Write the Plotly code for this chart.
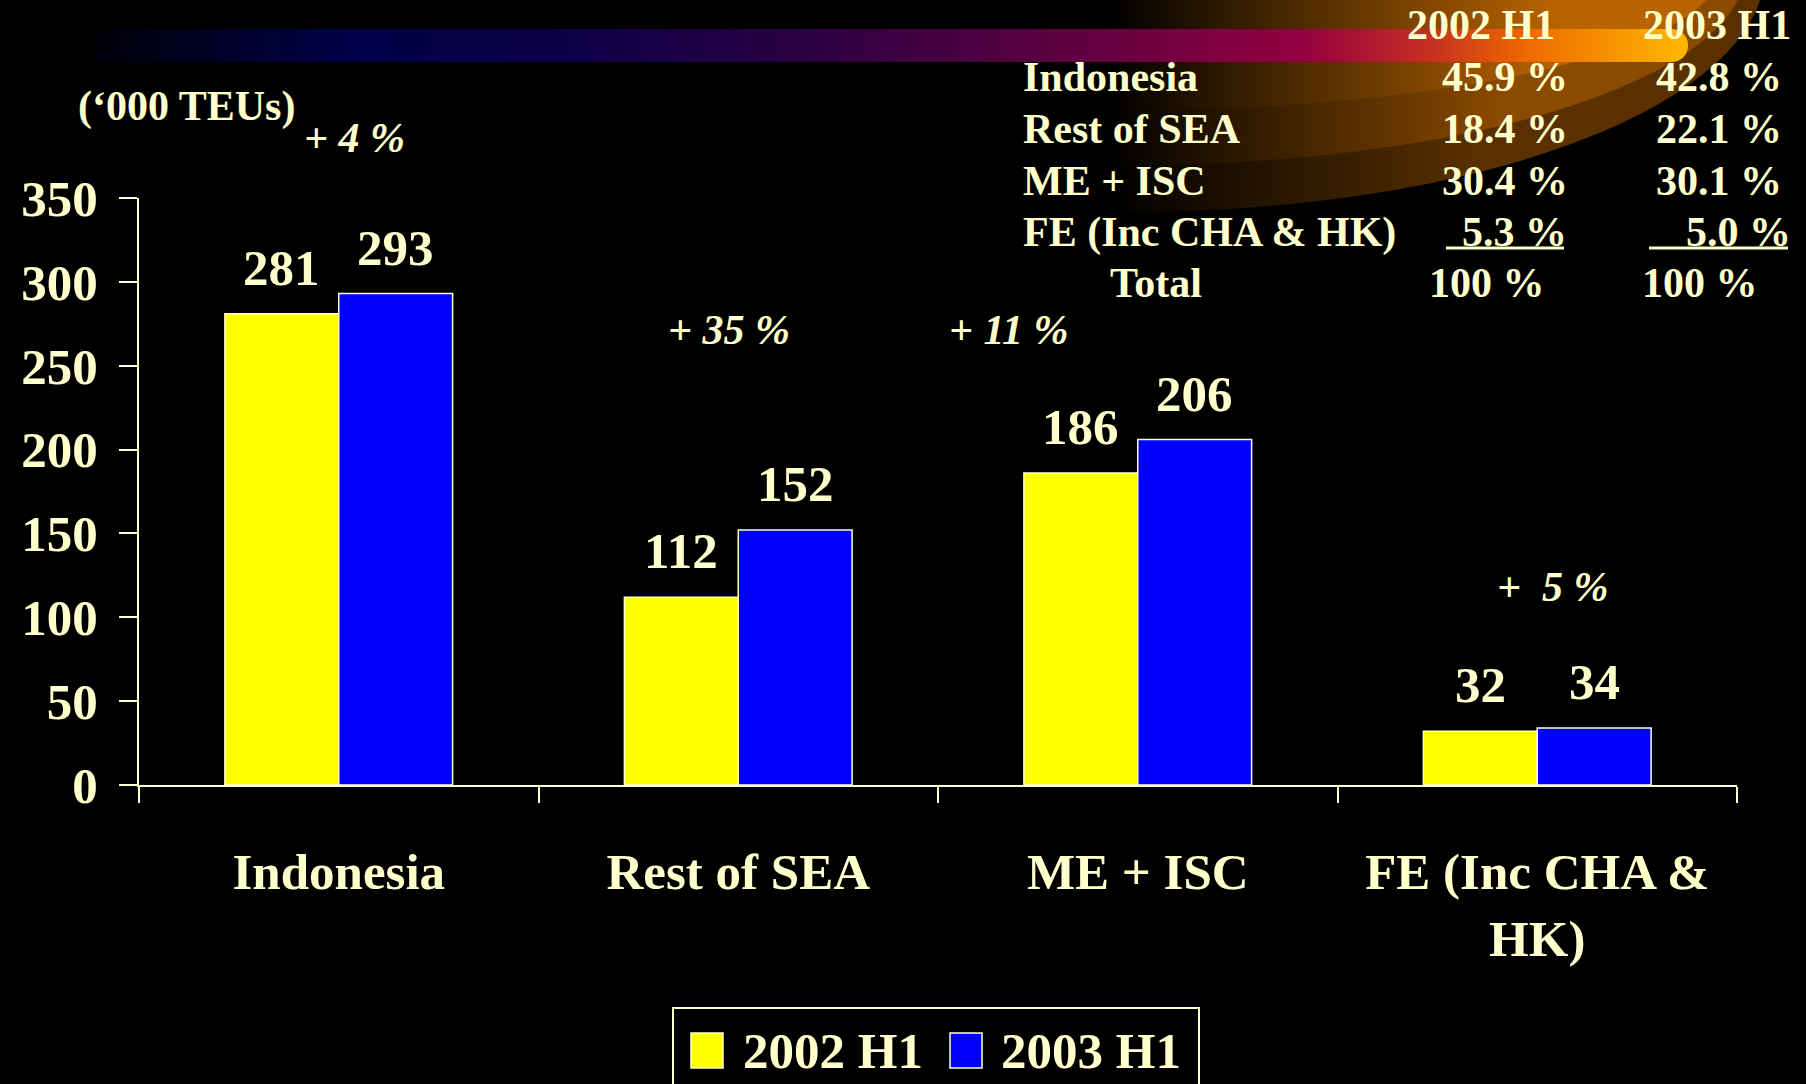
import base64
import plotly.graph_objects as go

# ---------------- data ----------------
categories = ["Indonesia", "Rest of SEA", "ME + ISC", "FE (Inc CHA &<br>HK)"]
series_names = ["2002 H1", "2003 H1"]
teu_2002 = [281, 112, 186, 32]
teu_2003 = [293, 152, 206, 34]
growth_labels = ["+ 4 %", "+ 35 %", "+ 11 %", "+  5 %"]
y_ticks = [0, 50, 100, 150, 200, 250, 300, 350]

share_regions = ["Indonesia", "Rest of SEA", "ME + ISC", "FE (Inc CHA & HK)"]
share_2002 = ["45.9 %", "18.4 %", "30.4 %", "5.3 %"]
share_2003 = ["42.8 %", "22.1 %", "30.1 %", "5.0 %"]
total_label = "Total"
total_2002 = "100 %"
total_2003 = "100 %"
unit_label = "(\u2018000 TEUs)"

# ---------------- layout constants ----------------
W, H = 1806, 1084
L, R, T, B = 139, 69, 198, 299
PW, PH = W - L - R, H - T - B
CREAM = "#FFFFCC"
FONT = "Liberation Serif, Times New Roman, serif"
YELLOW = "#FFFF00"
BLUE = "#0000FF"


def px(x):
    return (x - L) / PW


def py(y):
    return (H - B - y) / PH


# ---------------- background decoration (SVG) ----------------
svg = f"""<svg xmlns="http://www.w3.org/2000/svg" width="{W}" height="{H}" viewBox="0 0 {W} {H}">
<defs>
<linearGradient id="s1" gradientUnits="userSpaceOnUse" x1="1110" y1="0" x2="1480" y2="0">
<stop offset="0" stop-color="#000000"/><stop offset="1" stop-color="#5a3000"/></linearGradient>
<linearGradient id="s2" gradientUnits="userSpaceOnUse" x1="1110" y1="0" x2="1500" y2="0">
<stop offset="0" stop-color="#000000"/><stop offset="1" stop-color="#8a4a00"/></linearGradient>
<linearGradient id="s3" gradientUnits="userSpaceOnUse" x1="1110" y1="0" x2="1560" y2="0">
<stop offset="0" stop-color="#000000"/><stop offset="1" stop-color="#b86400"/></linearGradient>
<linearGradient id="band" gradientUnits="userSpaceOnUse" x1="92" y1="0" x2="1688" y2="0">
<stop offset="0" stop-color="#000008"/>
<stop offset="0.16" stop-color="#000048"/>
<stop offset="0.3" stop-color="#0c0048"/>
<stop offset="0.45" stop-color="#2c0042"/>
<stop offset="0.65" stop-color="#6a0040"/>
<stop offset="0.76" stop-color="#940040"/>
<stop offset="0.84" stop-color="#c83020"/>
<stop offset="0.9" stop-color="#ee6a00"/>
<stop offset="1" stop-color="#ffb800"/>
</linearGradient>
</defs>
<ellipse cx="1130" cy="-30" rx="635" ry="242" fill="url(#s1)"/>
<ellipse cx="1130" cy="-30" rx="615" ry="195" fill="url(#s2)"/>
<ellipse cx="1130" cy="-30" rx="590" ry="140" fill="url(#s3)"/>
<rect x="92" y="29" width="1596" height="33" rx="16" ry="16" fill="url(#band)"/>
</svg>"""
svg_uri = "data:image/svg+xml;base64," + base64.b64encode(svg.encode()).decode()

# ---------------- figure ----------------
fig = go.Figure()
for name, vals, col in [(series_names[0], teu_2002, YELLOW), (series_names[1], teu_2003, BLUE)]:
    fig.add_trace(go.Bar(
        x=categories, y=vals, name=name,
        marker=dict(color=col, line=dict(color=CREAM, width=1.5)),
        showlegend=False, hoverinfo="x+y",
    ))

annotations = []

# value labels above each bar
bar_half = PW / len(categories) * (1 - 0.43) / 2
for vals, shift in [(teu_2002, -bar_half / 2), (teu_2003, bar_half / 2)]:
    for c, v in zip(categories, vals):
        annotations.append(dict(
            x=c, y=v, xref="x", yref="y", text=str(v), showarrow=False,
            xanchor="center", yanchor="bottom", xshift=shift, yshift=16,
            font=dict(family=FONT, size=51, color=CREAM, weight="bold"),
        ))

# growth labels
growth_pos = [(354, 138), (729, 330), (1009, 330), (1552, 587)]
for txt, (gx, gy) in zip(growth_labels, growth_pos):
    annotations.append(dict(
        x=px(gx), y=py(gy), xref="paper", yref="paper", text=txt, showarrow=False,
        xanchor="center", yanchor="middle",
        font=dict(family=FONT, size=42, color=CREAM, weight="bold", style="italic"),
    ))

# unit label
annotations.append(dict(
    x=px(186), y=py(106), xref="paper", yref="paper", text=unit_label, showarrow=False,
    xanchor="center", yanchor="middle",
    font=dict(family=FONT, size=42, color=CREAM, weight="bold"),
))

# share table
tfont = dict(family=FONT, size=42, color=CREAM, weight="bold")
row_y = [77, 129, 181, 232]
col1_right = [1570, 1570, 1570, 1569]
col2_right = [1784, 1784, 1784, 1793]
for hx, h in zip([1481, 1717], series_names):
    annotations.append(dict(x=px(hx), y=py(25), xref="paper", yref="paper", text=h,
                            showarrow=False, xanchor="center", yanchor="middle", font=tfont))
for ry, reg, a, b, r1, r2 in zip(row_y, share_regions, share_2002, share_2003, col1_right, col2_right):
    annotations.append(dict(x=px(1021), y=py(ry), xref="paper", yref="paper", text=reg,
                            showarrow=False, xanchor="left", yanchor="middle", font=tfont))
    annotations.append(dict(x=px(r1), y=py(ry), xref="paper", yref="paper", text=a,
                            showarrow=False, xanchor="right", yanchor="middle", font=tfont))
    annotations.append(dict(x=px(r2), y=py(ry), xref="paper", yref="paper", text=b,
                            showarrow=False, xanchor="right", yanchor="middle", font=tfont))
annotations.append(dict(x=px(1108), y=py(283), xref="paper", yref="paper", text=total_label,
                        showarrow=False, xanchor="left", yanchor="middle", font=tfont))
annotations.append(dict(x=px(1547), y=py(283), xref="paper", yref="paper", text=total_2002,
                        showarrow=False, xanchor="right", yanchor="middle", font=tfont))
annotations.append(dict(x=px(1760), y=py(283), xref="paper", yref="paper", text=total_2003,
                        showarrow=False, xanchor="right", yanchor="middle", font=tfont))

# manual legend
lfont = dict(family=FONT, size=51, color=CREAM, weight="bold")
annotations.append(dict(x=px(741), y=py(1051), xref="paper", yref="paper", text=series_names[0],
                        showarrow=False, xanchor="left", yanchor="middle", font=lfont))
annotations.append(dict(x=px(999), y=py(1051), xref="paper", yref="paper", text=series_names[1],
                        showarrow=False, xanchor="left", yanchor="middle", font=lfont))

shapes = [
    # underlines in table
    dict(type="line", xref="paper", yref="paper", x0=px(1446), x1=px(1564), y0=py(248), y1=py(248),
         line=dict(color=CREAM, width=3)),
    dict(type="line", xref="paper", yref="paper", x0=px(1649), x1=px(1788), y0=py(248), y1=py(248),
         line=dict(color=CREAM, width=3)),
    # legend box and swatches
    dict(type="rect", xref="paper", yref="paper", x0=px(673), x1=px(1199), y0=py(1008), y1=py(1110),
         line=dict(color=CREAM, width=2), fillcolor="black"),
    dict(type="rect", xref="paper", yref="paper", x0=px(691), x1=px(723), y0=py(1033), y1=py(1068),
         line=dict(color=CREAM, width=1.5), fillcolor=YELLOW),
    dict(type="rect", xref="paper", yref="paper", x0=px(950), x1=px(982), y0=py(1033), y1=py(1068),
         line=dict(color=CREAM, width=1.5), fillcolor=BLUE),
]

fig.update_layout(
    template="none",
    width=W, height=H,
    margin=dict(l=L, r=R, t=T, b=B, autoexpand=False),
    paper_bgcolor="black",
    plot_bgcolor="rgba(0,0,0,0)",
    barmode="group", bargap=0.43, bargroupgap=0,
    showlegend=False,
    annotations=annotations,
    shapes=shapes,
    images=[dict(source=svg_uri, xref="paper", yref="paper",
                 x=px(0), y=py(0), sizex=W / PW, sizey=H / PH,
                 xanchor="left", yanchor="top", sizing="stretch", layer="below")],
    font=dict(family=FONT, color=CREAM),
)
fig.update_xaxes(
    showline=True, linecolor=CREAM, linewidth=2,
    ticks="outside", tickson="boundaries", ticklen=16, tickwidth=2, tickcolor=CREAM,
    tickfont=dict(family=FONT, size=51, color=CREAM, weight="bold"),
    ticklabelstandoff=41,
    showgrid=False, zeroline=False, automargin=False,
)
fig.update_yaxes(
    range=[0, 350], tickvals=y_ticks, ticktext=[str(v) for v in y_ticks],
    showline=True, linecolor=CREAM, linewidth=2,
    ticks="outside", ticklen=18, tickwidth=2, tickcolor=CREAM,
    tickfont=dict(family=FONT, size=51, color=CREAM, weight="bold"),
    ticklabelstandoff=11,
    showgrid=False, zeroline=False, automargin=False,
)

fig.write_html(
    "out.html",
    config={"displayModeBar": False},
    post_script="document.body.style.margin='0';document.body.style.background='black';",
)
